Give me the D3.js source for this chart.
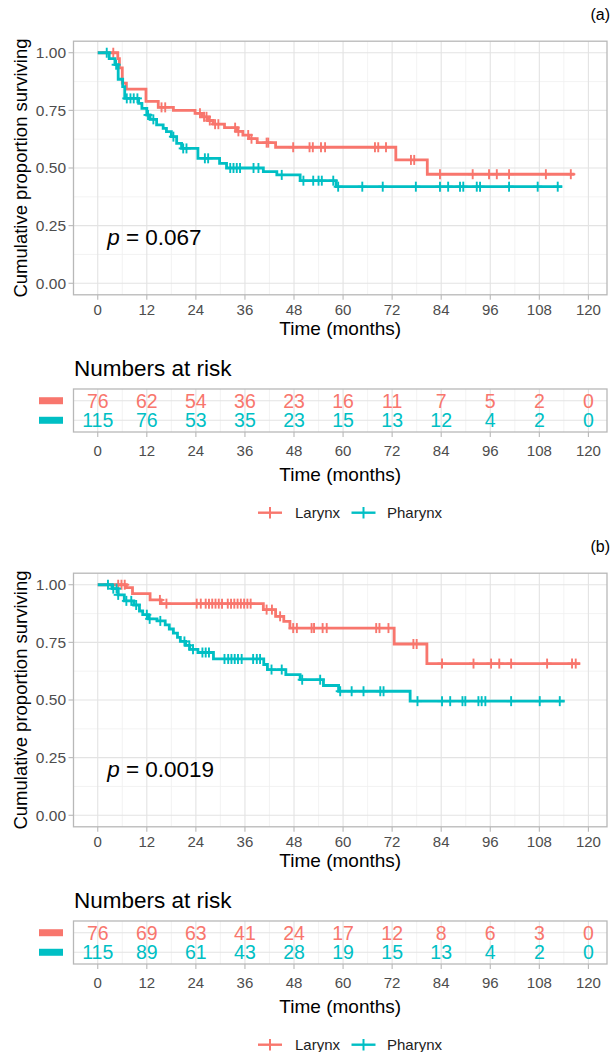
<!DOCTYPE html>
<html>
<head>
<meta charset="utf-8">
<script src="https://cdn.jsdelivr.net/npm/d3@7"></script>
<style>
body { margin: 0; background: #fff; }
text { font-family: "Liberation Sans", Arial, sans-serif; }
</style>
</head>
<body>
<svg id="chart" width="611" height="1052"></svg>
<script>
// ---- data ----
var groups = ["Larynx", "Pharynx"];
var riskTimes = [0, 12, 24, 36, 48, 60, 72, 84, 96, 108, 120];

// panel (a)
var aLarynxTime = [0, 4.9, 5.3, 6.0, 7.0, 11.8, 14.8, 18.5, 23.8, 25.5, 27.0, 28.2, 31.0, 34.0, 35.5, 37.0, 39.0, 43.5, 72.9, 80.6];
var aLarynxSurv = [1, 0.974, 0.934, 0.868, 0.842, 0.789, 0.763, 0.75, 0.737, 0.722, 0.706, 0.690, 0.675, 0.659, 0.643, 0.627, 0.61, 0.59, 0.535, 0.473];
var aLarynxCensor = [3.8, 15.6, 16.5, 25.0, 26.0, 26.6, 27.4, 28.7, 29.5, 33.6, 34.4, 36.8, 37.6, 41.3, 41.7, 47.8, 51.8, 52.6, 54.6, 55.6, 67.8, 68.6, 70.5, 76.6, 77.4, 83.7, 91.7, 95.7, 97.6, 100.6, 109.6, 115.7];
var aLarynxEnd = 116.6;

var aPharynxTime = [0, 2.8, 4.2, 5.0, 6.1, 6.6, 10.0, 10.8, 12.0, 12.8, 14.4, 16.0, 16.8, 18.0, 19.3, 20.5, 24.5, 29.8, 31.5, 40.5, 43.8, 49.5, 58.3];
var aPharynxSurv = [1, 0.974, 0.948, 0.885, 0.853, 0.802, 0.78, 0.759, 0.73, 0.711, 0.687, 0.672, 0.658, 0.636, 0.607, 0.585, 0.542, 0.52, 0.50, 0.484, 0.47, 0.445, 0.419];
var aPharynxCensor = [2.2, 4.5, 7.1, 8.0, 8.8, 9.7, 12.3, 13.6, 18.5, 20.9, 21.7, 26.2, 27.0, 32.4, 33.2, 34.0, 34.8, 38.1, 39.3, 45.0, 50.3, 52.7, 54.0, 54.8, 57.6, 58.8, 64.7, 69.7, 77.8, 83.7, 85.7, 88.6, 89.4, 92.7, 93.5, 100.6, 107.6, 112.5];
var aPharynxEnd = 113.6;

var aRiskLarynx = [76, 62, 54, 36, 23, 16, 11, 7, 5, 2, 0];
var aRiskPharynx = [115, 76, 53, 35, 23, 15, 13, 12, 4, 2, 0];

// panel (b)
var bLarynxTime = [0, 7.0, 8.5, 12.8, 15.5, 40.5, 43.5, 45.5, 47.0, 72.5, 80.5];
var bLarynxSurv = [1, 0.987, 0.961, 0.934, 0.918, 0.892, 0.863, 0.841, 0.812, 0.743, 0.658];
var bLarynxCensor = [5.0, 5.8, 6.6, 15.2, 16.8, 24.2, 25.2, 26.4, 27.2, 28.0, 28.8, 29.6, 30.4, 31.8, 32.6, 33.4, 34.2, 35.0, 35.8, 36.6, 37.4, 41.3, 42.6, 44.6, 47.8, 48.7, 52.3, 52.9, 55.0, 56.0, 68.1, 68.9, 71.1, 77.2, 78.0, 84.2, 91.9, 96.2, 98.2, 101.1, 109.9, 116.0, 116.9];
var bLarynxEnd = 118;

var bPharynxTime = [0, 3.5, 5.0, 6.5, 8.8, 10.2, 11.0, 12.4, 14.5, 16.5, 17.5, 18.5, 19.5, 20.2, 21.5, 22.5, 24.5, 28.3, 40.6, 41.5, 46.0, 49.5, 55.2, 58.9, 76.4];
var bPharynxSurv = [1, 0.983, 0.956, 0.93, 0.912, 0.886, 0.87, 0.852, 0.843, 0.826, 0.808, 0.79, 0.772, 0.754, 0.737, 0.72, 0.706, 0.678, 0.654, 0.632, 0.61, 0.588, 0.563, 0.538, 0.495];
var bPharynxCensor = [2.5, 3.8, 4.6, 5.0, 7.0, 8.2, 9.4, 12.0, 12.7, 15.3, 21.2, 22.4, 23.3, 25.6, 26.4, 27.2, 31.0, 31.9, 32.7, 33.5, 34.3, 35.2, 38.0, 38.9, 39.7, 42.5, 45.0, 50.0, 54.4, 59.3, 62.1, 65.0, 69.1, 69.9, 78.2, 84.2, 86.2, 89.2, 89.9, 93.1, 93.9, 94.8, 101.1, 108.1, 113.0];
var bPharynxEnd = 114.2;

var bRiskLarynx = [76, 69, 63, 41, 24, 17, 12, 8, 6, 3, 0];
var bRiskPharynx = [115, 89, 61, 43, 28, 19, 15, 13, 4, 2, 0];

var colors = ["#F8766D", "#00BFC4"];

// ---- scales ----
var svg = d3.select("#chart");
var x = d3.scaleLinear().domain([-5.93, 124.55]).range([73.5, 607]);
var y = d3.scaleLinear().domain([-0.05, 1.05]).range([294.8, 41.2]);
var yRisk = d3.scaleLinear().domain([0.4, 2.6]).range([432, 389]);

var xMajor = riskTimes;
var xMinor = d3.range(6, 120, 12);
var yMajor = [0, 0.25, 0.5, 0.75, 1];
var yMinor = [0.125, 0.375, 0.625, 0.875];

var gridMajor = "#E3E3E3", gridMinor = "#F0F0F0", borderCol = "#B8B8B8", tickText = "#4D4D4D";

function drawPanel(top, tag, curves, riskL, riskP, pText) {
    var g = svg.append("g").attr("transform", "translate(0," + top + ")");

    g.append("text").attr("x", 610).attr("y", 20).attr("text-anchor", "end")
        .style("font-size", "16px").text(tag);

    // grid
    var grid = g.append("g");
    grid.selectAll(".vmin").data(xMinor).enter().append("line")
        .attr("x1", x).attr("x2", x).attr("y1", y.range()[1]).attr("y2", y.range()[0])
        .attr("stroke", gridMinor).attr("stroke-width", 0.8);
    grid.selectAll(".hmin").data(yMinor).enter().append("line")
        .attr("x1", x.range()[0]).attr("x2", x.range()[1]).attr("y1", y).attr("y2", y)
        .attr("stroke", gridMinor).attr("stroke-width", 0.8);
    grid.selectAll(".vmaj").data(xMajor).enter().append("line")
        .attr("x1", x).attr("x2", x).attr("y1", y.range()[1]).attr("y2", y.range()[0])
        .attr("stroke", gridMajor).attr("stroke-width", 1.1);
    grid.selectAll(".hmaj").data(yMajor).enter().append("line")
        .attr("x1", x.range()[0]).attr("x2", x.range()[1]).attr("y1", y).attr("y2", y)
        .attr("stroke", gridMajor).attr("stroke-width", 1.1);

    // curves
    curves.forEach(function(c) {
        var pts = c.time.map(function(t, i) { return [t, c.surv[i]]; });
        pts.push([c.end, c.surv[c.surv.length - 1]]);
        var line = d3.line().x(function(d) { return x(d[0]); }).y(function(d) { return y(d[1]); })
            .curve(d3.curveStepAfter);
        g.append("path").attr("d", line(pts)).attr("fill", "none")
            .attr("stroke", c.color).attr("stroke-width", 2.8);
        var survAt = function(t) { return c.surv[d3.bisectRight(c.time, t) - 1]; };
        var marks = g.append("g").selectAll("g").data(c.censor).enter().append("g")
            .attr("transform", function(t) { return "translate(" + x(t) + "," + y(survAt(t)) + ")"; });
        marks.append("line").attr("x1", 0).attr("x2", 0).attr("y1", -5).attr("y2", 5)
            .attr("stroke", c.color).attr("stroke-width", 1.9);
        marks.append("line").attr("x1", -4.5).attr("x2", 4.5).attr("y1", 0).attr("y2", 0)
            .attr("stroke", c.color).attr("stroke-width", 1.9);
    });

    // border
    g.append("rect").attr("x", x.range()[0]).attr("y", y.range()[1])
        .attr("width", x.range()[1] - x.range()[0]).attr("height", y.range()[0] - y.range()[1])
        .attr("fill", "none").attr("stroke", borderCol).attr("stroke-width", 1.3);

    // axes
    g.append("g").selectAll("line").data(xMajor).enter().append("line")
        .attr("x1", x).attr("x2", x).attr("y1", y.range()[0]).attr("y2", y.range()[0] + 5)
        .attr("stroke", borderCol).attr("stroke-width", 1.1);
    g.append("g").selectAll("text").data(xMajor).enter().append("text")
        .attr("x", x).attr("y", 315).attr("text-anchor", "middle")
        .style("font-size", "15px").attr("fill", tickText).text(function(d) { return d; });
    g.append("g").selectAll("line").data(yMajor).enter().append("line")
        .attr("x1", x.range()[0] - 5).attr("x2", x.range()[0]).attr("y1", y).attr("y2", y)
        .attr("stroke", borderCol).attr("stroke-width", 1.1);
    g.append("g").selectAll("text").data(yMajor).enter().append("text")
        .attr("x", 66).attr("y", function(d) { return y(d) + 5.4; }).attr("text-anchor", "end")
        .style("font-size", "15.5px").attr("fill", tickText).text(d3.format(".2f"));

    g.append("text").attr("transform", "translate(26.5," + ((y.range()[0] + y.range()[1]) / 2) + ") rotate(-90)")
        .attr("text-anchor", "middle").style("font-size", "18.5px").text("Cumulative proportion surviving");
    g.append("text").attr("x", (x.range()[0] + x.range()[1]) / 2).attr("y", 334.6)
        .attr("text-anchor", "middle").style("font-size", "19px").text("Time (months)");

    var pv = g.append("text").attr("x", x(2.3)).attr("y", y(0.2) + 8).style("font-size", "22.5px");
    pv.append("tspan").style("font-style", "italic").text("p");
    pv.append("tspan").text(" = " + pText);

    // risk table
    g.append("text").attr("x", 74).attr("y", 375.5).style("font-size", "22.5px").text("Numbers at risk");

    var t = g.append("g");
    t.selectAll(".vmin").data(xMinor).enter().append("line")
        .attr("x1", x).attr("x2", x).attr("y1", yRisk.range()[1]).attr("y2", yRisk.range()[0])
        .attr("stroke", gridMinor).attr("stroke-width", 0.8);
    t.selectAll(".vmaj").data(xMajor).enter().append("line")
        .attr("x1", x).attr("x2", x).attr("y1", yRisk.range()[1]).attr("y2", yRisk.range()[0])
        .attr("stroke", gridMajor).attr("stroke-width", 1.1);
    t.selectAll(".hmaj").data([1, 2]).enter().append("line")
        .attr("x1", x.range()[0]).attr("x2", x.range()[1]).attr("y1", yRisk).attr("y2", yRisk)
        .attr("stroke", gridMajor).attr("stroke-width", 1.1);

    var rows = [{ idx: 2, vals: riskL, color: colors[0] }, { idx: 1, vals: riskP, color: colors[1] }];
    rows.forEach(function(r) {
        t.append("g").selectAll("text").data(r.vals).enter().append("text")
            .attr("x", function(d, i) { return x(riskTimes[i]); })
            .attr("y", yRisk(r.idx) + 7).attr("text-anchor", "middle")
            .style("font-size", "19.5px").attr("fill", r.color).text(function(d) { return d; });
        t.append("rect").attr("x", 39).attr("y", yRisk(r.idx) - 3.5)
            .attr("width", 24).attr("height", 7).attr("fill", r.color);
    });

    t.append("rect").attr("x", x.range()[0]).attr("y", yRisk.range()[1])
        .attr("width", x.range()[1] - x.range()[0]).attr("height", yRisk.range()[0] - yRisk.range()[1])
        .attr("fill", "none").attr("stroke", borderCol).attr("stroke-width", 1.3);
    t.append("g").selectAll("line").data(xMajor).enter().append("line")
        .attr("x1", x).attr("x2", x).attr("y1", yRisk.range()[0]).attr("y2", yRisk.range()[0] + 5)
        .attr("stroke", borderCol).attr("stroke-width", 1.1);
    t.append("g").selectAll("text").data(xMajor).enter().append("text")
        .attr("x", x).attr("y", 456.4).attr("text-anchor", "middle")
        .style("font-size", "15px").attr("fill", tickText).text(function(d) { return d; });
    t.append("text").attr("x", (x.range()[0] + x.range()[1]) / 2).attr("y", 480.6)
        .attr("text-anchor", "middle").style("font-size", "19px").text("Time (months)");

    // legend
    var leg = [{ name: groups[0], x0: 258, tx: 295, color: colors[0] }, { name: groups[1], x0: 351.5, tx: 387, color: colors[1] }];
    leg.forEach(function(l) {
        g.append("line").attr("x1", l.x0).attr("x2", l.x0 + 24).attr("y1", 512.7).attr("y2", 512.7)
            .attr("stroke", l.color).attr("stroke-width", 2.4);
        g.append("line").attr("x1", l.x0 + 12).attr("x2", l.x0 + 12).attr("y1", 507).attr("y2", 518.5)
            .attr("stroke", l.color).attr("stroke-width", 2);
        g.append("text").attr("x", l.tx).attr("y", 518).style("font-size", "15px")
            .attr("fill", "#222").text(l.name);
    });
}

drawPanel(0, "(a)", [
    { color: colors[0], time: aLarynxTime, surv: aLarynxSurv, censor: aLarynxCensor, end: aLarynxEnd },
    { color: colors[1], time: aPharynxTime, surv: aPharynxSurv, censor: aPharynxCensor, end: aPharynxEnd }
], aRiskLarynx, aRiskPharynx, "0.067");

drawPanel(532, "(b)", [
    { color: colors[0], time: bLarynxTime, surv: bLarynxSurv, censor: bLarynxCensor, end: bLarynxEnd },
    { color: colors[1], time: bPharynxTime, surv: bPharynxSurv, censor: bPharynxCensor, end: bPharynxEnd }
], bRiskLarynx, bRiskPharynx, "0.0019");
</script>
</body>
</html>
